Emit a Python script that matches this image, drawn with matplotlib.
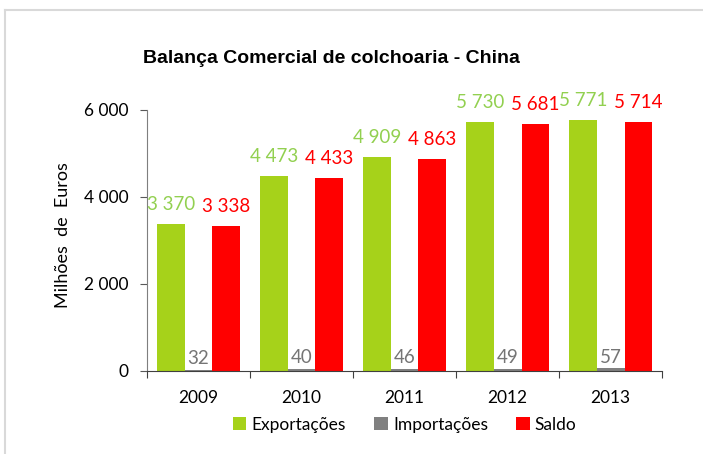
import numpy as np
import matplotlib
matplotlib.use("Agg")
import matplotlib.pyplot as plt
from matplotlib.lines import Line2D
from matplotlib.ticker import FuncFormatter

# Data
years = ["2009", "2010", "2011", "2012", "2013"]
exportacoes = [3370, 4473, 4909, 5730, 5771]
importacoes = [32, 40, 46, 49, 57]
saldo = [3338, 4433, 4863, 5681, 5714]

plt.rcParams["font.family"] = ["Lato", "DejaVu Sans"]

fig = plt.figure(figsize=(7.03, 4.54), dpi=100)
ax = fig.add_axes([0.209, 0.183, 0.733, 0.575])

x = np.arange(len(years))
w = 0.27

def fmt(v):
    return f"{v:,}".replace(",", " ")

series = [
    (exportacoes, -w, "#A6D21A", "#92D050", "Exportações", 8),
    (importacoes, 0, "#808080", "#757575", "Importações", 2),
    (saldo, w, "#FF0000", "#FF0000", "Saldo", 8),
]
for vals, off, col, lcol, name, pad in series:
    bars = ax.bar(x + off, vals, w, color=col, label=name)
    for b, v in zip(bars, vals):
        ax.annotate(fmt(v), (b.get_x() + b.get_width() / 2, v),
                    xytext=(0, pad), textcoords="offset points",
                    ha="center", va="bottom", color=lcol, fontsize=13.5,
                    annotation_clip=False)

ax.set_xlim(-0.5, len(years) - 0.5)
ax.set_ylim(0, 6000)
ax.set_yticks([0, 2000, 4000, 6000])
ax.yaxis.set_major_formatter(FuncFormatter(lambda v, p: fmt(int(v))))
ax.tick_params(axis="y", labelsize=12.5, length=5, color="#595959", pad=8)

ax.set_xticks(np.arange(-0.5, len(years), 1))
ax.set_xticklabels([])
ax.tick_params(axis="x", which="major", length=5, color="#404040")
ax.set_xticks(x, minor=True)
ax.set_xticklabels(years, minor=True)
ax.tick_params(axis="x", which="minor", length=0, labelsize=12.5, pad=14)

for s in ["top", "right"]:
    ax.spines[s].set_visible(False)
ax.spines["left"].set_color("#7F7F7F")
ax.spines["bottom"].set_color("#404040")

ax.set_ylabel("Milhões  de  Euros", fontsize=13)
ax.yaxis.set_label_coords(-0.148, 0.52)

fig.text(0.472, 0.872, "Balança Comercial de colchoaria - China",
         ha="center", va="center", fontsize=14, fontweight="bold",
         family="Liberation Sans")

ax.legend(loc="upper center", bbox_to_anchor=(0.5, -0.115), ncol=3,
          frameon=False, fontsize=12.5, handlelength=0.8, handleheight=0.8,
          handletextpad=0.3, columnspacing=1.6)

# outer chart border
fig.add_artist(Line2D([0.007, 0.007], [0, 0.978], color="#D9D9D9", lw=1.5))
fig.add_artist(Line2D([0.007, 1], [0.978, 0.978], color="#D9D9D9", lw=1.5))

fig.savefig("out.png", dpi=100)
